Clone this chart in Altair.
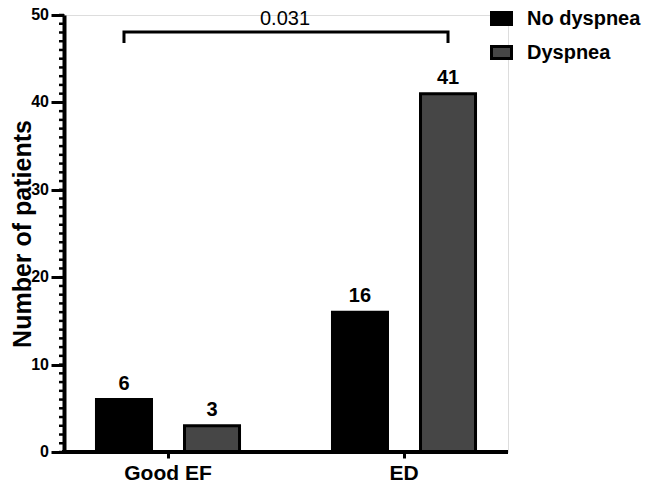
import altair as alt
import pandas as pd

categories = ["Good EF", "ED"]
groups = ["No dyspnea", "Dyspnea"]
no_dyspnea = [6, 16]
dyspnea = [3, 41]
y_ticks = [0, 10, 20, 30, 40, 50]
minor_ticks = list(range(0, 51))
p_value = "0.031"
bracket_cats = ["Good EF", "Good EF", "ED", "ED"]
bracket_groups = ["No dyspnea", "No dyspnea", "Dyspnea", "Dyspnea"]
bracket_levels = [46.8, 48.05, 48.05, 46.8]
colors = ["#000000", "#464646"]

FONT = "Liberation Sans"
W, H = 444, 437

rows = []
for i, c in enumerate(categories):
    rows.append({"category": c, "group": groups[0], "count": no_dyspnea[i]})
    rows.append({"category": c, "group": groups[1], "count": dyspnea[i]})
df = pd.DataFrame(rows)

bracket_df = pd.DataFrame({
    "category": bracket_cats,
    "group": bracket_groups,
    "count": bracket_levels,
    "order": list(range(len(bracket_cats))),
})
minor_df = pd.DataFrame({"count": minor_ticks})
major_df = pd.DataFrame({"count": y_ticks})
base_df = pd.DataFrame({"count": [0]})

xscale = alt.Scale(domain=categories, range=[-14, 458], paddingInner=0, paddingOuter=0)
oscale = alt.Scale(domain=groups, paddingInner=0.375, paddingOuter=0.528)
yscale = alt.Scale(domain=[0, 50], nice=False, zero=True)

x_axis = alt.Axis(title=None, domain=False, ticks=True, tickSize=6, tickWidth=3,
                  tickColor="black", labelFont=FONT, labelFontSize=21,
                  labelFontWeight="bold", labelColor="black", labelPadding=4,
                  labelAngle=0, grid=False)
y_axis = alt.Axis(values=y_ticks, tickSize=13, tickWidth=3, tickColor="black",
                  domainColor="black", domainWidth=4, labels=False,
                  grid=False, title="Number of patients",
                  titleFont=FONT, titleFontSize=25, titleFontWeight="bold",
                  titleColor="black", titleX=-42, titleY=H / 2,
                  titleBaseline="middle", titleAlign="center")

X = alt.X("category:N", scale=xscale, sort=categories, axis=x_axis)
XO = alt.XOffset("group:N", scale=oscale, sort=groups)
Y = alt.Y("count:Q", scale=yscale, axis=y_axis)

bars = alt.Chart(df).mark_bar(stroke="black", strokeWidth=3, opacity=1).encode(
    x=X, xOffset=XO, y=Y,
    color=alt.Color("group:N", sort=groups,
                    scale=alt.Scale(domain=groups, range=colors),
                    legend=alt.Legend(title=None, orient="none", legendX=426, legendY=-8,
                                      symbolType="M-1,-0.6H1V0.6H-1Z", symbolSize=400,
                                      symbolStrokeColor="black", symbolStrokeWidth=3,
                                      symbolOpacity=1, labelFont=FONT, labelFontSize=20,
                                      labelFontWeight="bold", labelColor="black",
                                      labelOffset=14, rowPadding=9, padding=0)),
)

minor = alt.Chart(minor_df).mark_rule(color="black", strokeWidth=2.5).encode(
    y=Y, x=alt.value(-5), x2=alt.value(0),
)

tick_labels = alt.Chart(major_df).mark_text(
    font=FONT, fontSize=16, fontWeight="bold", align="right", baseline="middle",
    dx=-15, color="black"
).encode(
    y=Y, x=alt.value(0), text="count:Q",
)

baseline = alt.Chart(base_df).mark_rule(color="black", strokeWidth=4).encode(
    y=Y, x=alt.value(-2), x2=alt.value(W),
)

labels = alt.Chart(df).mark_text(
    font=FONT, fontSize=20, fontWeight="bold", baseline="bottom", dy=-6, color="black"
).encode(
    x=X, xOffset=XO, y=Y, text="count:Q",
)

bracket = alt.Chart(bracket_df).mark_line(color="black", strokeWidth=3).encode(
    x=X, xOffset=XO, y=Y, order="order:Q",
)

ptext = alt.Chart(pd.DataFrame({"t": [p_value]})).mark_text(
    font=FONT, fontSize=20, baseline="middle", align="center", color="black"
).encode(
    text="t:N", x=alt.value(221), y=alt.value(4),
)

chart = alt.layer(bars, minor, tick_labels, baseline, labels, bracket, ptext).properties(
    width=W, height=H,
    autosize=alt.AutoSizeParams(type="none"),
    padding={"left": 56, "top": 7, "right": 134, "bottom": 32},
).configure_view(stroke=None).configure(font=FONT).configure_axisX(
    labelFont=FONT, labelFontSize=21, labelFontWeight="bold", labelColor="black",
)

chart.save("out.html", embed_options={"renderer": "svg", "actions": False})
